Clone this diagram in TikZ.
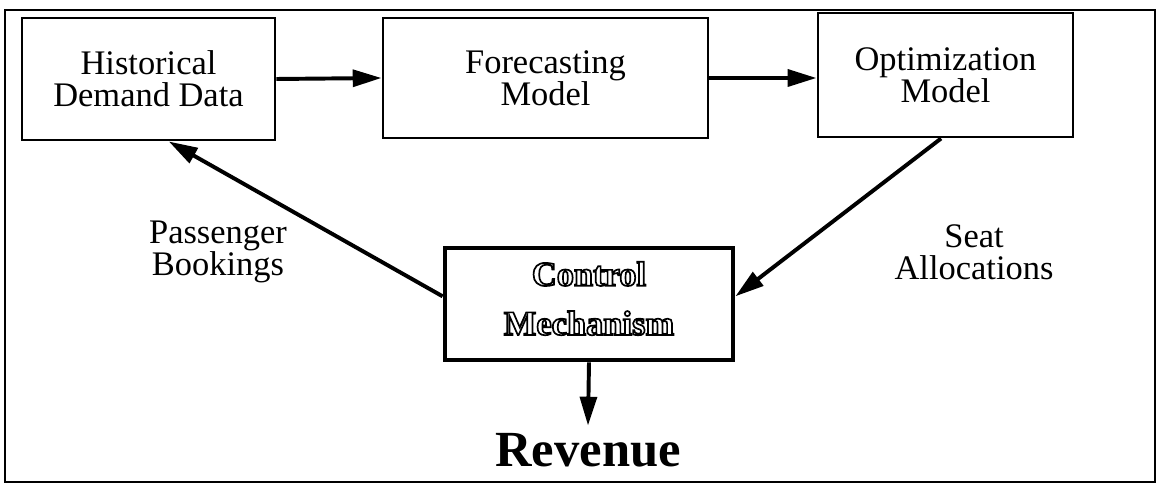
\documentclass[tikz,border=0pt]{standalone}
\usepackage{fontspec}
\setmainfont{Liberation Serif}
\usetikzlibrary{arrows.meta,calc}
\newcommand{\otxt}[1]{\special{pdf:literal direct 1 g 0 G 2 Tr 1.2 w}#1\special{pdf:literal direct 0 Tr 0 g}}
\tikzset{
  box/.style={draw=black, line width=2.1pt, fill=white, align=center, inner sep=0pt,
    font=\fontsize{24.5}{22.5}\selectfont},
  ctrlbox/.style={draw=black, line width=3.4pt, fill=white, align=center, inner sep=0pt,
    font=\fontsize{24.5}{35}\selectfont\bfseries},
  lbl/.style={align=center, font=\fontsize{24.5}{22.5}\selectfont},
  conn/.style={line width=2.8pt, -{Triangle[length=0.72cm,width=0.42cm]}},
}
\begin{document}
\begin{tikzpicture}[x=0.025cm,y=-0.025cm]
\useasboundingbox (0,0) rectangle (1160,490);
\draw[line width=2pt] (5,10) rectangle (1155,482);
\node[box, minimum width=253*0.025cm, minimum height=122*0.025cm] (hist) at (148.5,79) {Historical\\Demand Data};
\node[box, minimum width=325*0.025cm, minimum height=120*0.025cm] (fore) at (545.5,78) {Forecasting\\Model};
\node[box, minimum width=255*0.025cm, minimum height=124*0.025cm] (opt) at (945.5,75) {Optimization\\Model};
\node[ctrlbox, text depth=8pt, minimum width=288*0.025cm, minimum height=112*0.025cm] (ctrl) at (589,304) {\otxt{Control}\\\otxt{Mechanism}};
\node[font=\fontsize{36}{36}\selectfont\bfseries, inner sep=0pt, anchor=base] (rev) at (588,467) {Revenue};
\node[lbl] (pb) at (218,252) {Passenger\\Bookings};
\node[lbl] (sa) at (974,252) {Seat\\Allocations};
\draw[conn] (hist.east) -- (fore.west);
\draw[conn] (fore.east) -- (fore.east -| opt.west);
\draw[conn] (ctrl.177) -- (hist.-72);
\draw[conn] (opt.-94) -- (ctrl.3);
\draw[conn] (ctrl.south) -- ($(rev.north)+(0,-8)$);
\end{tikzpicture}
\end{document}
